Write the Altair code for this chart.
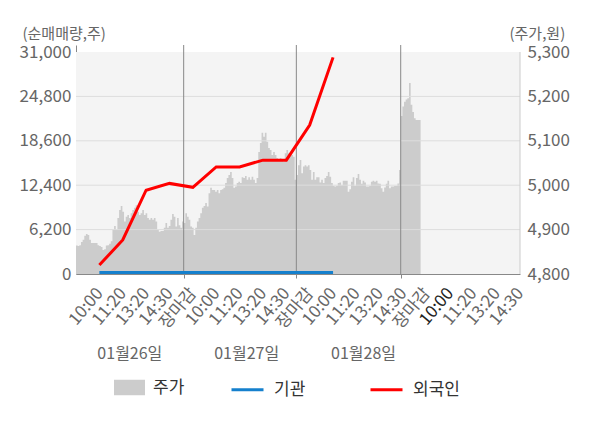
import altair as alt
import pandas as pd

FONT = "Noto Sans CJK KR"
GRAY_TXT = "#666666"
BLUE = "#1580cd"
RED = "#ff0000"

# ---------------- data ----------------
x_labels = ["10:00", "11:20", "13:20", "14:30", "장마감"] * 3 + ["10:00", "11:20", "13:20", "14:30"]
slots = list(range(1, 20))

flow_slots = list(range(1, 12))
foreign_vals = [1250, 4750, 11700, 12650, 12100, 14950, 14950, 15900, 15900, 20800, 30250]
inst_vals = [200, 200, 200, 200, 200, 200, 200, 200, 200, 200, 200]

day1 = [4864, 4863, 4865, 4872, 4877, 4886, 4890, 4888, 4877, 4870, 4870, 4870, 4870, 4865, 4863,
        4861, 4854, 4856, 4864, 4865, 4868, 4874, 4899, 4908, 4899, 4926, 4944, 4953, 4940, 4918,
        4929, 4933, 4926, 4937, 4944, 4949, 4955, 4940, 4933, 4937, 4944, 4933, 4937, 4926, 4922,
        4926, 4922, 4926, 4918, 4899, 4895, 4897, 4897, 4904, 4915, 4904, 4908, 4922, 4935, 4929,
        4907, 4926, 4910, 4904, 4918]
day2 = [4915, 4937, 4929, 4922, 4907, 4904, 4888, 4904, 4918, 4926, 4937, 4949, 4953, 4960, 4952,
        4982, 4994, 4989, 4989, 4985, 4989, 4982, 4989, 4991, 4994, 5005, 5016, 5023, 5030, 5016,
        4994, 4997, 5005, 5008, 5005, 5018, 5016, 5021, 5012, 5018, 5012,
        5019, 5012, 5005, 5016, 5075, 5095, 5118, 5109, 5118, 5098, 5084, 5079, 5068, 5075, 5068,
        5061, 5057, 5061, 5057, 5053, 5072, 5079, 5072, 5072, 5068, 5064, 5012]
day3 = [5023, 5045, 5057, 5027, 5042, 5045, 5042, 5045, 5034, 5012, 5030, 5012, 5018, 5018, 5006,
        5012, 5005, 5016, 5021, 5030, 5019, 5005, 4998, 4997, 4998, 5005,
        5006, 5000, 5010, 5010, 5010, 4985, 4991, 5008, 5018, 4998, 5016, 5025, 5012, 5003, 5010,
        5006, 4997, 4997, 4998, 5008, 5010, 5008, 5010, 5004, 5003, 4993, 4985, 4995, 5003, 5010,
        4993, 4997, 4997, 4998, 4998, 5004, 5034]
day4 = [5156, 5177, 5188, 5193, 5196, 5230, 5181, 5165, 5151, 5147, 5147, 5147, 5147]
price = day1 + day2 + day3 + day4
day_starts = [len(day1), len(day1) + len(day2), len(day1) + len(day2) + len(day3)]
SAMPLE_WINDOW = 268  # number of price samples the full x range holds

date_labels = ["01월26일", "01월27일", "01월28일"]
date_slots = [1, 6, 11]

vol_ticks = [0, 6200, 12400, 18600, 24800, 31000]
price_ticks = [4800, 4900, 5000, 5100, 5200, 5300]
price_grid = [4900, 5000, 5100, 5200]

PLOT_W, PLOT_H, DATA_H = 444, 229, 222
vol_top = 31000 * PLOT_H / DATA_H
price_top = 4800 + 500 * PLOT_H / DATA_H

# ---------------- scales / axes ----------------
xB = alt.Scale(domain=[0, SAMPLE_WINDOW], nice=False, zero=False)
axB = alt.Axis(values=day_starts, labels=False, ticks=True, tickSize=4, tickColor="#888888",
               domain=False, grid=False, title=None, orient="bottom")
yP = alt.Scale(domain=[4800, price_top], nice=False, zero=False)
ayP = alt.Axis(values=price_ticks, format=",d", orient="right", ticks=False, domain=False, grid=False,
               labelFont=FONT, labelFontSize=17, labelColor=GRAY_TXT, labelPadding=7,
               title="(주가,원)", titleAngle=0, titleAlign="left", titleBaseline="alphabetic",
               titleX=-11, titleY=-7, titleFont=FONT, titleFontSize=15, titleFontWeight="normal",
               titleColor=GRAY_TXT)

label_expr = "[''," + ",".join("'%s'" % s for s in x_labels) + "][datum.value]"
xA = alt.Scale(domain=[0, 19], nice=False, zero=False)
axA = alt.Axis(values=slots, labelExpr=label_expr, labelAngle=-50, labelAlign="right",
               labelBaseline="middle", labelFont=FONT, labelFontSize=17, labelPadding=16,
               labelColor={"condition": [{"test": "datum.label == '장마감'", "value": RED},
                                         {"test": "datum.value == 16", "value": "#222222"}],
                           "value": GRAY_TXT},
               labelOverlap=False, labelFlush=False, labelBound=False,
               ticks=False, domain=True, domainColor="#888888", grid=False, title=None,
               orient="bottom")
yV = alt.Scale(domain=[0, vol_top], nice=False, zero=False)
ayV = alt.Axis(values=vol_ticks, format=",d", orient="left", ticks=False, domain=True,
               domainColor="#888888", grid=False, labelFont=FONT, labelFontSize=17,
               labelColor=GRAY_TXT, labelPadding=5,
               title="(순매매량,주)", titleAngle=0, titleAlign="left", titleBaseline="alphabetic",
               titleX=-54, titleY=-7, titleFont=FONT, titleFontSize=15, titleFontWeight="normal",
               titleColor=GRAY_TXT)

# ---------------- price group ----------------
bg_df = pd.DataFrame({"x0": [0], "x1": [SAMPLE_WINDOW], "y0": [4800], "y1": [5300]})
bg = alt.Chart(bg_df).mark_rect(color="#f4f4f4").encode(
    x=alt.X("x0:Q", scale=xB, axis=axB), x2="x1:Q",
    y=alt.Y("y0:Q", scale=yP, axis=ayP), y2="y1:Q")

area_df = pd.DataFrame({"i": list(range(len(price))), "price": price, "s": ["주가"] * len(price)})
area = alt.Chart(area_df).mark_area(interpolate="step-after").encode(
    x=alt.X("i:Q", scale=xB, axis=axB),
    y=alt.Y("price:Q", scale=yP, axis=ayP),
    y2=alt.datum(4800),
    fill=alt.Fill("s:N", scale=alt.Scale(domain=["주가"], range=["#cccccc"]),
                  legend=alt.Legend(orient="none", legendX=38, legendY=327, direction="horizontal",
                                    title=None, symbolType="M-1,-0.5H1V0.5H-1Z", symbolSize=961,
                                    symbolStrokeWidth=0, symbolOpacity=1, labelFont=FONT,
                                    labelFontSize=17, labelColor="#333333", labelOffset=8)))

hgrid = alt.Chart(pd.DataFrame({"g": price_grid})).mark_rule(color="#dddddd", strokeWidth=1).encode(
    y=alt.Y("g:Q", scale=yP, axis=ayP))

dayrule = alt.Chart(pd.DataFrame({"d": day_starts})).mark_rule(color="#888888", strokeWidth=1).encode(
    x=alt.X("d:Q", scale=xB, axis=axB))

edge = alt.Chart(bg_df).mark_rule(color="#cccccc", strokeWidth=1).encode(
    x=alt.X("x1:Q", scale=xB, axis=axB),
    y=alt.Y("y0:Q", scale=yP, axis=ayP), y2="y1:Q")

price_group = alt.layer(bg, area, hgrid, dayrule, edge)

# ---------------- flow group ----------------
flow_df = pd.DataFrame({
    "slot": flow_slots + flow_slots,
    "v": inst_vals + foreign_vals,
    "s": ["기관"] * len(flow_slots) + ["외국인"] * len(flow_slots),
})
lines = alt.Chart(flow_df).mark_line(strokeWidth=3).encode(
    x=alt.X("slot:Q", scale=xA, axis=axA),
    y=alt.Y("v:Q", scale=yV, axis=ayV),
    detail="s:N",
    stroke=alt.Stroke("s:N", scale=alt.Scale(domain=["기관", "외국인"], range=[BLUE, RED]),
                      legend=alt.Legend(orient="none", legendX=154, legendY=327,
                                        direction="horizontal", title=None, symbolType="stroke",
                                        symbolSize=1024, symbolStrokeWidth=3, columnPadding=58,
                                        labelFont=FONT, labelFontSize=17, labelColor="#333333",
                                        labelOffset=9)))

dates_df = pd.DataFrame({"slot": date_slots, "label": date_labels})
dates = alt.Chart(dates_df).mark_text(align="left", baseline="alphabetic", font=FONT, fontSize=16,
                                      color=GRAY_TXT, dx=-2).encode(
    x=alt.X("slot:Q", scale=xA, axis=axA),
    y=alt.value(314),
    text="label:N")

flow_group = alt.layer(lines, dates)

chart = alt.layer(price_group, flow_group).resolve_scale(
    x="independent", y="independent", fill="independent", stroke="independent"
).properties(
    width=PLOT_W, height=PLOT_H,
    autosize=alt.AutoSizeParams(type="none"),
    padding={"left": 68, "top": 37, "right": 72, "bottom": 146},
).configure_view(stroke=None)

chart.save("out.html", embed_options={"renderer": "svg", "actions": False})
